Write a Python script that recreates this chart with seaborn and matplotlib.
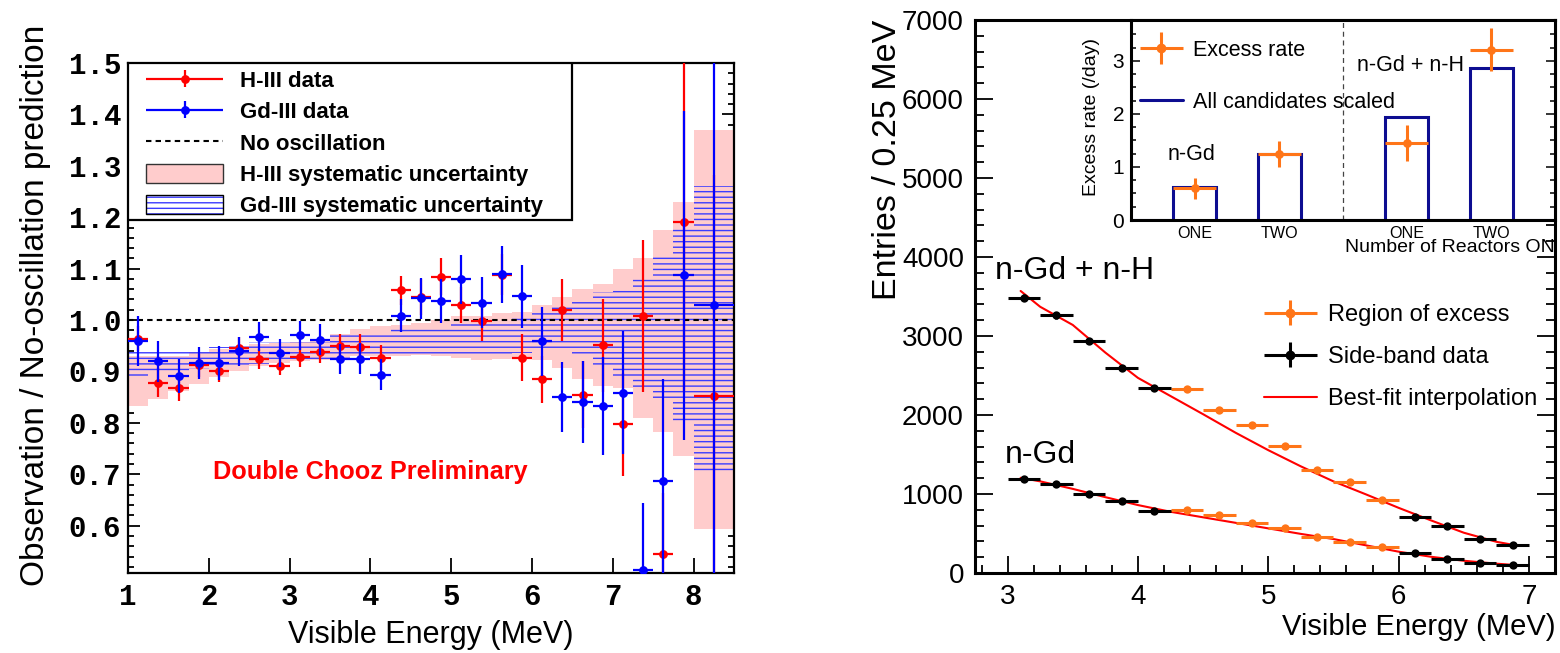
import matplotlib
matplotlib.use("Agg")
import matplotlib.pyplot as plt
import seaborn as sns
import numpy as np
from matplotlib.patches import Patch, Rectangle
from matplotlib.lines import Line2D
from matplotlib.container import ErrorbarContainer
from matplotlib.legend_handler import HandlerErrorbar, HandlerTuple
from matplotlib.ticker import MultipleLocator, FixedLocator, FormatStrFormatter, NullLocator

# ---------------- Left panel data ----------------
left_edges = [1.0, 1.25, 1.5, 1.75, 2.0, 2.25, 2.5, 2.75, 3.0, 3.25, 3.5, 3.75,
              4.0, 4.25, 4.5, 4.75, 5.0, 5.25, 5.5, 5.75, 6.0, 6.25, 6.5, 6.75,
              7.0, 7.25, 7.5, 7.75, 8.0, 8.5]
h_ratio = [0.964, 0.878, 0.868, 0.912, 0.900, 0.946, 0.924, 0.911, 0.928, 0.937,
           0.949, 0.947, 0.927, 1.058, 1.044, 1.084, 1.029, 0.998, 1.088, 0.927,
           0.885, 1.019, 0.855, 0.951, 0.797, 1.008, 0.544, 1.191, 0.852]
h_err = [0.025, 0.028, 0.025, 0.022, 0.020, 0.022, 0.019, 0.018, 0.020, 0.021,
         0.023, 0.025, 0.025, 0.028, 0.035, 0.036, 0.035, 0.038, 0.040, 0.045,
         0.046, 0.060, 0.065, 0.090, 0.100, 0.148, 0.120, 0.330, 0.430]
gd_ratio = [0.959, 0.920, 0.891, 0.917, 0.916, 0.939, 0.968, 0.936, 0.970, 0.962,
            0.924, 0.925, 0.894, 1.008, 1.042, 1.037, 1.079, 1.034, 1.089, 1.046,
            0.959, 0.851, 0.841, 0.833, 0.859, 0.514, 0.686, 1.087, 1.029]
gd_err = [0.048, 0.040, 0.033, 0.031, 0.033, 0.029, 0.028, 0.028, 0.029, 0.030,
          0.029, 0.030, 0.031, 0.032, 0.039, 0.042, 0.047, 0.049, 0.055, 0.061,
          0.067, 0.068, 0.080, 0.095, 0.120, 0.130, 0.200, 0.320, 0.550]
h_sys_lo = [0.833, 0.846, 0.862, 0.875, 0.890, 0.901, 0.911, 0.916, 0.920, 0.922,
            0.927, 0.930, 0.930, 0.930, 0.932, 0.930, 0.927, 0.922, 0.925, 0.925,
            0.922, 0.907, 0.885, 0.872, 0.867, 0.810, 0.782, 0.735, 0.593]
h_sys_hi = [0.930, 0.930, 0.930, 0.937, 0.943, 0.948, 0.953, 0.955, 0.958, 0.962,
            0.972, 0.982, 0.988, 0.990, 0.995, 1.001, 1.008, 1.008, 1.013, 1.015,
            1.030, 1.045, 1.060, 1.071, 1.100, 1.120, 1.175, 1.230, 1.370]
gd_sys_lo = [0.890, 0.900, 0.900, 0.905, 0.909, 0.912, 0.915, 0.918, 0.920, 0.922,
             0.925, 0.928, 0.930, 0.930, 0.932, 0.932, 0.932, 0.932, 0.933, 0.935,
             0.937, 0.938, 0.929, 0.909, 0.890, 0.870, 0.841, 0.802, 0.705]
gd_sys_hi = [0.940, 0.940, 0.940, 0.942, 0.948, 0.952, 0.958, 0.958, 0.958, 0.958,
             0.977, 0.977, 0.977, 0.986, 0.986, 0.986, 0.996, 0.996, 0.996, 1.006,
             1.018, 1.025, 1.036, 1.055, 1.065, 1.084, 1.123, 1.182, 1.261]
no_osc = 1.0
left_yticks = [0.6, 0.7, 0.8, 0.9, 1.0, 1.1, 1.2, 1.3, 1.4, 1.5]

# ---------------- Right panel data ----------------
sb_E = [3.125, 3.375, 3.625, 3.875, 4.125, 6.125, 6.375, 6.625, 6.875]
ex_E = [4.375, 4.625, 4.875, 5.125, 5.375, 5.625, 5.875]
gdh_sb = [3486, 3261, 2935, 2597, 2344, 715, 596, 427, 359]
gdh_sb_err = [45, 44, 42, 40, 38, 22, 20, 17, 16]
gdh_ex = [2335, 2069, 1870, 1603, 1307, 1151, 926]
gdh_ex_err = [38, 36, 34, 32, 28, 27, 24]
gd_sb = [1193, 1125, 998, 914, 791, 250, 178, 131, 97]
gd_sb_err = [27, 26, 25, 24, 22, 13, 11, 9, 8]
gd_ex = [800, 736, 639, 575, 461, 397, 326]
gd_ex_err = [22, 21, 20, 19, 17, 16, 14]
fit_E = [3.1, 3.25, 3.5, 3.75, 4.0, 4.25, 4.5, 4.75, 5.0, 5.25, 5.5, 5.75, 6.0,
         6.25, 6.5, 6.75, 6.9]
fit_gdh = [3570, 3370, 3140, 2790, 2470, 2240, 2010, 1775, 1555, 1350, 1160, 995,
           825, 665, 510, 395, 350]
fit_gd = [1205, 1160, 1065, 960, 860, 775, 705, 635, 565, 495, 430, 350, 270,
          205, 155, 118, 100]
bin_half = 0.125

# ---------------- Inset data ----------------
inset_edges = [0, 1, 2, 3, 4, 5, 6, 7, 8, 9, 10]
scaled_counts = [0, 0.63, 0, 1.24, 0, 0, 1.95, 0, 2.86, 0]
excess_pos = [1.5, 3.5, 6.5, 8.5]
excess_rate = [0.60, 1.24, 1.45, 3.21]
excess_err = [0.20, 0.24, 0.34, 0.41]
reactor_labels = ["ONE", "TWO", "ONE", "TWO"]
divider_x = 5

# ---------------- Style ----------------
sns.set_theme(style="ticks")
plt.rcParams["font.family"] = ["Liberation Sans", "DejaVu Sans"]
plt.rcParams.update({
    "axes.edgecolor": "black", "xtick.color": "black", "ytick.color": "black",
    "text.color": "black", "axes.labelcolor": "black", "hatch.linewidth": 1.0,
    "axes.unicode_minus": False, "legend.numpoints": 1,
})

RED = "#ff0000"
BLUE = "#0000ff"
PINK = "#ffcccc"
HATCH = "#3c3cff"
ORANGE = "#ff7518"
NAVY = "#0d0d91"

fig = plt.figure(figsize=(15.6, 6.53), dpi=100)

# ================= Left panel =================
axL = fig.add_axes([128 / 1560, 80 / 653, 606 / 1560, 510 / 653])
edges = np.array(left_edges)
lo = edges[:-1]
w = np.diff(edges)
cx = lo + w / 2

axL.bar(lo, np.array(h_sys_hi) - np.array(h_sys_lo), bottom=h_sys_lo, width=w,
        align="edge", color=PINK, linewidth=0, zorder=1)
axL.bar(lo, np.array(gd_sys_hi) - np.array(gd_sys_lo), bottom=gd_sys_lo, width=w,
        align="edge", facecolor="none", edgecolor=HATCH, hatch="---", linewidth=0,
        zorder=2)
axL.axhline(no_osc, color="black", lw=1.5, ls=(0, (2.6, 2.0)), zorder=2.5)
eb_h = axL.errorbar(cx, h_ratio, xerr=w / 2, yerr=h_err, fmt="o", color=RED,
                    ms=5.3, elinewidth=1.6, capsize=0, zorder=3)
eb_gd = axL.errorbar(cx, gd_ratio, xerr=w / 2, yerr=gd_err, fmt="o", color=BLUE,
                     ms=5.3, elinewidth=1.6, capsize=0, zorder=4)

axL.set_xlim(1, 8.5)
axL.set_ylim(0.508, 1.5)
axL.yaxis.set_major_locator(FixedLocator(left_yticks))
axL.yaxis.set_minor_locator(MultipleLocator(0.02))
axL.yaxis.set_major_formatter(FormatStrFormatter("%.1f"))
axL.xaxis.set_major_locator(MultipleLocator(1))
axL.xaxis.set_minor_locator(NullLocator())
axL.tick_params(axis="y", which="both", direction="in", left=True, right=True,
                width=1.3, pad=5)
axL.tick_params(axis="y", which="major", length=8.6)
axL.tick_params(axis="y", which="minor", length=4.3)
axL.tick_params(axis="x", which="major", direction="in", bottom=True, top=False,
                length=10.8, width=1.3, pad=7)
for lab in axL.get_xticklabels() + axL.get_yticklabels():
    lab.set_family("Liberation Mono")
    lab.set_weight("bold")
    lab.set_fontsize(21)
for sp in axL.spines.values():
    sp.set_linewidth(1.6)
    sp.set_color("black")

axL.set_xlabel("Visible Energy (MeV)", fontsize=22)
axL.xaxis.set_label_coords(0.5, -0.1216)
axL.xaxis.label.set_va("center")
axL.set_ylabel("Observation / No-oscillation prediction", fontsize=24)
axL.yaxis.set_label_coords(-0.152, 0.525)
axL.yaxis.label.set_va("center")

axL.text(4.0, 0.704, "Double Chooz Preliminary", color=RED, fontsize=18.2,
         fontweight="bold", ha="center", va="center", zorder=6)

axL.add_patch(Rectangle((0, 0.692), 0.7327, 0.308, transform=axL.transAxes,
                        facecolor="white", edgecolor="black", lw=1.6, zorder=5))
leg_handles = [
    eb_h, eb_gd,
    Line2D([], [], color="black", lw=1.5, ls=(0, (2.6, 2.0))),
    Patch(facecolor=PINK, edgecolor="#333333", lw=1.0),
    (Patch(facecolor="white", edgecolor=HATCH, hatch="---", lw=0),
     Patch(facecolor="none", edgecolor="black", lw=1.0)),
]
leg_labels = ["H-III data", "Gd-III data", "No oscillation",
              "H-III systematic uncertainty", "Gd-III systematic uncertainty"]
legL = axL.legend(leg_handles, leg_labels, loc="upper left",
                  bbox_to_anchor=(0.0297, 0.986), borderaxespad=0, borderpad=0,
                  frameon=False, prop={"family": "Liberation Sans", "weight": "bold",
                                       "size": 16},
                  handlelength=3.47, handleheight=0.93, handletextpad=0.77,
                  labelspacing=0.41,
                  handler_map={ErrorbarContainer: HandlerErrorbar(xerr_size=1.73, yerr_size=0.38),
                               tuple: HandlerTuple(ndivide=1, pad=0)})
legL.set_zorder(6)

# ================= Right panel =================
axR = fig.add_axes([975 / 1560, 80 / 653, 580 / 1560, 553 / 653])
sns.lineplot(x=fit_E, y=fit_gdh, ax=axR, color=RED, lw=1.5, legend=False, zorder=2)
sns.lineplot(x=fit_E, y=fit_gd, ax=axR, color=RED, lw=1.5, legend=False, zorder=2)

eb_ex = axR.errorbar(ex_E, gdh_ex, xerr=bin_half, yerr=gdh_ex_err, fmt="none",
                     ecolor=ORANGE, elinewidth=2.2, capsize=0, zorder=3)
axR.errorbar(ex_E, gd_ex, xerr=bin_half, yerr=gd_ex_err, fmt="none",
             ecolor=ORANGE, elinewidth=2.2, capsize=0, zorder=3)
eb_sb = axR.errorbar(sb_E, gdh_sb, xerr=bin_half, yerr=gdh_sb_err, fmt="none",
                     ecolor="black", elinewidth=2.2, capsize=0, zorder=3)
axR.errorbar(sb_E, gd_sb, xerr=bin_half, yerr=gd_sb_err, fmt="none",
             ecolor="black", elinewidth=2.2, capsize=0, zorder=3)
for xs, ys, c in [(ex_E, gdh_ex, ORANGE), (ex_E, gd_ex, ORANGE),
                  (sb_E, gdh_sb, "black"), (sb_E, gd_sb, "black")]:
    sns.scatterplot(x=xs, y=ys, ax=axR, color=c, s=36, linewidth=0, zorder=4,
                    legend=False)

axR.set_xlim(2.75, 7.2)
axR.set_ylim(0, 7000)
axR.xaxis.set_major_locator(MultipleLocator(1))
axR.xaxis.set_minor_locator(MultipleLocator(0.2))
axR.yaxis.set_major_locator(MultipleLocator(1000))
axR.yaxis.set_minor_locator(MultipleLocator(200))
axR.tick_params(axis="both", which="both", direction="in", labelsize=20, width=1.3)
axR.tick_params(axis="y", which="both", left=True, right=True, pad=8)
axR.tick_params(axis="y", which="major", length=13)
axR.tick_params(axis="y", which="minor", length=6.5)
axR.tick_params(axis="x", which="both", bottom=True, top=False, pad=8)
axR.tick_params(axis="x", which="major", length=12)
axR.tick_params(axis="x", which="minor", length=6)
for sp in axR.spines.values():
    sp.set_linewidth(2.2)
    sp.set_color("black")

axR.set_xlabel("Visible Energy (MeV)", fontsize=21)
axR.xaxis.set_label_coords(1.0, -0.0976)
axR.xaxis.label.set_ha("right")
axR.xaxis.label.set_va("center")
axR.set_ylabel("Entries / 0.25 MeV", fontsize=24.5)
axR.yaxis.set_label_coords(-0.15, 1.0)
axR.yaxis.label.set_ha("right")
axR.yaxis.label.set_va("center")

axR.text(2.902, 3820, "n-Gd + n-H", fontsize=23, ha="left", va="center")
axR.text(2.979, 1497, "n-Gd", fontsize=23, ha="left", va="center")

legR = axR.legend(
    [(eb_ex, Line2D([], [], marker="o", color=ORANGE, ls="none", ms=6)),
     (eb_sb, Line2D([], [], marker="o", color="black", ls="none", ms=6)),
     Line2D([], [], color=RED, lw=1.5)],
    ["Region of excess", "Side-band data", "Best-fit interpolation"],
    loc="upper left", bbox_to_anchor=(0.498, 0.4865), borderaxespad=0, borderpad=0,
    frameon=False, fontsize=17, handlelength=2.25, handletextpad=0.45,
    labelspacing=0.85,
    handler_map={ErrorbarContainer: HandlerErrorbar(xerr_size=1.12, yerr_size=0.53),
                 tuple: HandlerTuple(ndivide=1, pad=0)})

# ================= Inset =================
axI = fig.add_axes([1131 / 1560, 433 / 653, 424 / 1560, 200 / 653])
axI.set_facecolor("white")
axI.stairs(scaled_counts, inset_edges, color=NAVY, lw=2.2, baseline=0, zorder=2)
axI.axvline(divider_x, color="#444444", lw=0.9, ls=(0, (4, 3)), zorder=1)
eb_inset = axI.errorbar(excess_pos, excess_rate, xerr=0.5, yerr=excess_err,
                        fmt="none", ecolor=ORANGE, elinewidth=2.2, capsize=0, zorder=3)
sns.scatterplot(x=excess_pos, y=excess_rate, ax=axI, color=ORANGE, s=40,
                linewidth=0, zorder=4, legend=False)
axI.set_xlim(0, 10)
axI.set_ylim(0, 3.77)
axI.xaxis.set_major_locator(FixedLocator(excess_pos))
axI.set_xticklabels(reactor_labels)
axI.yaxis.set_major_locator(MultipleLocator(1))
axI.yaxis.set_minor_locator(MultipleLocator(0.25))
axI.tick_params(axis="x", which="both", length=0, labelsize=11.6, pad=4.5)
axI.tick_params(axis="y", which="both", direction="in", left=True, right=True,
                labelsize=15, width=1.1, pad=5)
axI.tick_params(axis="y", which="major", length=6.5)
axI.tick_params(axis="y", which="minor", length=3.5)
for sp in axI.spines.values():
    sp.set_linewidth(2.2)
    sp.set_color("black")
axI.set_xlabel("Number of Reactors ON", fontsize=14)
axI.xaxis.set_label_coords(1.0, -0.14)
axI.xaxis.label.set_ha("right")
axI.xaxis.label.set_va("center")
axI.set_ylabel("Excess rate (/day)", fontsize=14)
axI.yaxis.set_label_coords(-0.092, 0.515)
axI.yaxis.label.set_va("center")
axI.text(1.43, 1.23, "n-Gd", fontsize=15.5, ha="center", va="center")
axI.text(6.6, 2.92, "n-Gd + n-H", fontsize=15.5, ha="center", va="center")
axI.legend(
    [(eb_inset, Line2D([], [], marker="o", color=ORANGE, ls="none", ms=6)),
     Line2D([], [], color=NAVY, lw=2.2)],
    ["Excess rate", "All candidates scaled"],
    loc="upper left", bbox_to_anchor=(0.021, 0.9025), borderaxespad=0, borderpad=0,
    frameon=False, fontsize=15.5, handlelength=2.0, handletextpad=0.45,
    labelspacing=1.45,
    handler_map={ErrorbarContainer: HandlerErrorbar(xerr_size=1.0, yerr_size=0.74),
                 tuple: HandlerTuple(ndivide=1, pad=0)})

fig.savefig("out.png", dpi=100)
